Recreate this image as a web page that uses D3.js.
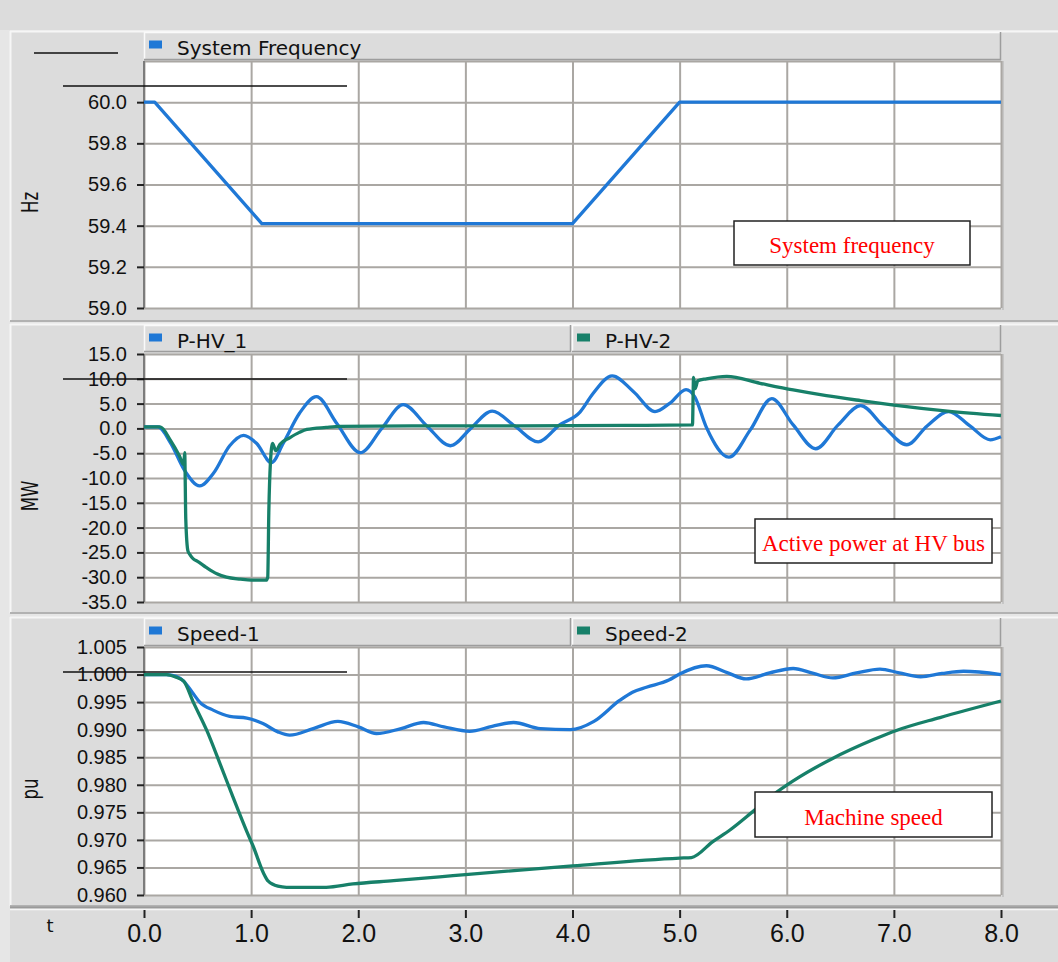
<!DOCTYPE html>
<html>
<head>
<meta charset="utf-8">
<title>System frequency, HV power and machine speed</title>
<script src="https://d3js.org/d3.v7.min.js"></script>
<style>
  body { margin: 0; background: #e6e6e6; }
  svg { display: block; font-family: "DejaVu Sans", Verdana, sans-serif; }
  .grid line { stroke: #aaa7a3; stroke-width: 2; }
  .grid path { display: none; }
  .yaxis path, .xaxis path { display: none; }
  .yaxis line, .xaxis line { stroke: #222; stroke-width: 2; }
  .yaxis text { font-size: 20px; fill: #111; }
  .xaxis text { font-size: 25px; fill: #111; }
  .note text { font-family: "Liberation Serif", "Times New Roman", serif; font-size: 23px; fill: #ff0000; }
</style>
</head>
<body>
<svg width="1058" height="962"></svg>
<script>
// time axis (s)
const xTicks = [0, 1, 2, 3, 4, 5, 6, 7, 8];

// system frequency (Hz)
const freqT = [0, 0.1, 1.1, 4.0, 5.0, 8.0];
const freqV = [60.0, 60.0, 59.41, 59.41, 60.0, 60.0];
const freqTicks = [59.0, 59.2, 59.4, 59.6, 59.8, 60.0];
const freqGrid = [59.0, 59.2, 59.4, 59.6, 59.8, 60.0, 60.2];

// active power at HV bus (MW)
const phv1T = [0, 0.13, 0.25, 0.38, 0.52, 0.65, 0.8, 0.93, 1.05, 1.19, 1.3, 1.45, 1.61, 1.8, 2.02,
  2.22, 2.42, 2.64, 2.86, 3.05, 3.25, 3.46, 3.68, 3.88, 4.07, 4.19, 4.37, 4.57, 4.77, 4.91, 5.06,
  5.14, 5.25, 5.46, 5.66, 5.86, 6.06, 6.27, 6.48, 6.69, 6.9, 7.12, 7.31, 7.51, 7.71, 7.9, 8.0];
const phv1V = [0.3, 0.3, -3.0, -8.5, -11.6, -9.0, -3.5, -1.4, -3.0, -6.9, -3.0, 3.0, 6.4, 1.0, -4.9,
  0.0, 4.8, 0.5, -3.5, 0.0, 3.5, 0.5, -2.7, 0.7, 3.3, 7.0, 10.6, 7.4, 3.4, 5.1, 7.8,
  6.4, 0.2, -5.8, -0.3, 6.0, 0.7, -4.1, 0.7, 4.6, 0.5, -3.3, 0.5, 3.4, 0.5, -2.3, -1.7];
const phv2T = [0, 0.15, 0.25, 0.33, 0.37, 0.38, 0.39, 0.41, 0.43, 0.46, 0.5, 0.58, 0.68, 0.77, 0.9,
  1.0, 1.14, 1.155, 1.165, 1.18, 1.2, 1.23, 1.27, 1.36, 1.45, 1.52, 1.7, 1.83, 2.5, 3.5, 4.5,
  5.12, 5.13, 5.145, 5.17, 5.25, 5.44, 5.75, 6.06, 6.37, 6.69, 7.0, 7.5, 8.0];
const phv2V = [0.3, 0.3, -2.5, -5.5, -7.3, -4.9, -18.3, -24.7, -25.5, -26.3, -26.8, -28.0, -29.3, -30.0, -30.4,
  -30.6, -30.6, -30.0, -17.0, -7.0, -3.0, -4.5, -3.2, -1.9, -0.8, -0.2, 0.2, 0.4, 0.5, 0.5, 0.6,
  0.7, 10.3, 8.0, 9.6, 10.0, 10.5, 9.1, 7.75, 6.6, 5.6, 4.7, 3.5, 2.6];
const powerTicks = [-35, -30, -25, -20, -15, -10, -5, 0, 5, 10, 15];

// machine speed (pu)
const spd1T = [0, 0.21, 0.3, 0.37, 0.45, 0.52, 0.65, 0.8, 0.96, 1.11, 1.25, 1.36, 1.58, 1.81, 2.0,
  2.17, 2.4, 2.61, 2.8, 3.04, 3.25, 3.45, 3.7, 3.98, 4.2, 4.44, 4.56, 4.69, 4.9, 5.0,
  5.25, 5.45, 5.62, 5.84, 6.06, 6.25, 6.43, 6.65, 6.87, 7.05, 7.25, 7.45, 7.65, 8.0];
const spd1V = [1.0, 1.0, 0.9997, 0.9988, 0.9968, 0.995, 0.9935, 0.9924, 0.9921, 0.9911, 0.9896, 0.989, 0.9902, 0.9915, 0.9905,
  0.9893, 0.9902, 0.9913, 0.9905, 0.9897, 0.9906, 0.9913, 0.9902, 0.99, 0.9915, 0.9953, 0.9968, 0.9977, 0.999, 1.0001,
  1.0016, 1.0003, 0.9992, 1.0003, 1.0011, 1.0002, 0.9994, 1.0003, 1.001, 1.0003, 0.9996, 1.0002, 1.0006, 1.0];
const spd2T = [0, 0.21, 0.3, 0.37, 0.46, 0.585, 0.71, 0.83, 0.96, 1.02, 1.115, 1.16, 1.25, 1.33, 1.7,
  1.95, 2.33, 2.76, 3.0, 4.0, 5.0, 5.11, 5.31, 5.47, 5.7, 5.91, 6.06, 6.41, 6.81, 7.03, 7.43, 8.0];
const spd2V = [1.0, 1.0, 0.9995, 0.9988, 0.995, 0.9899, 0.9838, 0.9778, 0.9715, 0.9688, 0.964, 0.9625, 0.9616, 0.9614, 0.9614,
  0.962, 0.9626, 0.9633, 0.9637, 0.9653, 0.9667, 0.9668, 0.9697, 0.9718, 0.9754, 0.9787, 0.9807, 0.9846, 0.9882, 0.9899, 0.9922, 0.9952];
const speedTicks = [0.960, 0.965, 0.970, 0.975, 0.980, 0.985, 0.990, 0.995, 1.000, 1.005];

const blue = "#1f78d6", green = "#178069";

const svg = d3.select("svg");
const x = d3.scaleLinear().domain([0, 8]).range([144, 1001]);

// top strip
svg.append("rect").attr("x", 0).attr("y", 0).attr("width", 1058).attr("height", 30).attr("fill", "#dcdcdc");

const panels = [
  { top: 31, bottom: 321, legend: [32, 60], plot: [61, 308], domain: [59.0, 60.2],
    ticks: freqTicks, grid: freqGrid, digits: 1, title: "Hz",
    series: [{ name: "System Frequency", t: freqT, v: freqV, color: blue, curve: d3.curveLinear }], single: true },
  { top: 324, bottom: 613, legend: [325, 352], plot: [354, 602], domain: [-35, 15],
    ticks: powerTicks, grid: powerTicks, digits: 1, title: "MW",
    series: [{ name: "P-HV_1", t: phv1T, v: phv1V, color: blue },
             { name: "P-HV-2", t: phv2T, v: phv2V, color: green }] },
  { top: 617, bottom: 906, legend: [618, 646], plot: [647, 895], domain: [0.960, 1.005],
    ticks: speedTicks, grid: speedTicks, digits: 3, title: "pu",
    series: [{ name: "Speed-1", t: spd1T, v: spd1V, color: blue },
             { name: "Speed-2", t: spd2T, v: spd2V, color: green }] }
];

panels.forEach(p => {
  const g = svg.append("g");
  const y = d3.scaleLinear().domain(p.domain).range([p.plot[1], p.plot[0]]);

  // frame
  g.append("rect").attr("x", 10).attr("y", p.top).attr("width", 1048).attr("height", p.bottom - p.top).attr("fill", "#dcdcdc");
  g.append("line").attr("x1", 10).attr("x2", 1058).attr("y1", p.top + 0.5).attr("y2", p.top + 0.5).attr("stroke", "#f6f6f6").attr("stroke-width", 2);
  g.append("line").attr("x1", 10.5).attr("x2", 10.5).attr("y1", p.top).attr("y2", p.bottom).attr("stroke", "#f6f6f6").attr("stroke-width", 2);
  g.append("line").attr("x1", 10).attr("x2", 1058).attr("y1", p.bottom).attr("y2", p.bottom).attr("stroke", "#b2b2b2").attr("stroke-width", 2);

  // plot area
  g.append("rect").attr("x", 144).attr("y", p.plot[0]).attr("width", 857).attr("height", p.plot[1] - p.plot[0]).attr("fill", "#fff");
  g.append("line").attr("x1", 1003).attr("x2", 1003).attr("y1", p.plot[0]).attr("y2", p.plot[1] + 2).attr("stroke", "#c6c6c6").attr("stroke-width", 2);
  g.append("g").attr("class", "grid").attr("transform", `translate(0,${p.plot[1]})`)
    .call(d3.axisBottom(x).tickValues(xTicks).tickSize(-(p.plot[1] - p.plot[0])).tickFormat(""));
  g.append("g").attr("class", "grid").attr("transform", "translate(144,0)")
    .call(d3.axisLeft(y).tickValues(p.grid).tickSize(-857).tickFormat(""));

  // legend bar
  const segs = p.single ? [[144, 1001]] : [[144, 571], [572, 1001]];
  p.series.forEach((s, i) => {
    const [a, b] = segs[i];
    const lg = g.append("g");
    lg.append("rect").attr("x", a).attr("y", p.legend[0]).attr("width", b - a).attr("height", p.legend[1] - p.legend[0]).attr("fill", "#dcdcdc");
    lg.append("path").attr("d", `M${a + 0.5},${p.legend[1]}V${p.legend[0] + 0.5}H${b}`).attr("fill", "none").attr("stroke", "#fafafa").attr("stroke-width", 1.5);
    lg.append("path").attr("d", `M${a},${p.legend[1] - 0.5}H${b - 0.5}V${p.legend[0]}`).attr("fill", "none").attr("stroke", "#9d9d9d").attr("stroke-width", 1.5);
    lg.append("rect").attr("x", a + 5).attr("y", p.legend[0] + 8.5).attr("width", 13).attr("height", 8).attr("fill", s.color);
    lg.append("text").attr("x", a + 33).attr("y", p.legend[0] + 22.5).style("font-size", "20px").attr("fill", "#111").text(s.name);
  });

  // y axis
  g.append("line").attr("x1", 144).attr("x2", 144).attr("y1", p.plot[0]).attr("y2", p.plot[1]).attr("stroke", "#7c7c7c").attr("stroke-width", 2);
  g.append("g").attr("class", "yaxis").attr("transform", "translate(144,0)")
    .call(d3.axisLeft(y).tickValues(p.ticks).tickSize(7).tickPadding(10).tickFormat(d => d.toFixed(p.digits)));
  g.append("text").attr("transform", `translate(38,${(p.plot[0] + p.plot[1]) / 2 + 18}) rotate(-90) scale(0.72,1)`)
    .attr("text-anchor", "middle").style("font-size", "23px").attr("fill", "#111").text(p.title);

  // series
  p.series.forEach(s => {
    const line = d3.line().x(d => x(d[0])).y(d => y(d[1])).curve(s.curve || d3.curveMonotoneX);
    g.append("path").datum(d3.zip(s.t, s.v)).attr("fill", "none").attr("stroke", s.color)
      .attr("stroke-width", 3.3).attr("stroke-linejoin", "round").attr("d", line);
  });
});

// annotation boxes
const notes = [
  { text: "System frequency", x0: 734, y0: 221, x1: 970, y1: 265 },
  { text: "Active power at HV bus", x0: 755, y0: 519, x1: 992, y1: 563 },
  { text: "Machine speed", x0: 755, y0: 792, x1: 992, y1: 837 }
];
const ng = svg.append("g").attr("class", "note");
notes.forEach(n => {
  ng.append("rect").attr("x", n.x0).attr("y", n.y0).attr("width", n.x1 - n.x0).attr("height", n.y1 - n.y0)
    .attr("fill", "#fff").attr("stroke", "#222").attr("stroke-width", 1.5);
  ng.append("text").attr("x", (n.x0 + n.x1) / 2).attr("y", n.y1 - 12).attr("text-anchor", "middle").text(n.text);
});

// stray black rules in the original screenshot
const rules = [[34, 118, 53], [63, 347, 86], [63, 347, 379], [63, 347, 672]];
rules.forEach(r => {
  svg.append("line").attr("x1", r[0]).attr("x2", r[1]).attr("y1", r[2]).attr("y2", r[2]).attr("stroke", "#111").attr("stroke-width", 1.5);
});

// shared time axis
svg.append("rect").attr("x", 10).attr("y", 907).attr("width", 1048).attr("height", 55).attr("fill", "#dcdcdc");
svg.append("line").attr("x1", 10).attr("x2", 1058).attr("y1", 907.5).attr("y2", 907.5).attr("stroke", "#9a9a9a").attr("stroke-width", 2);
svg.append("line").attr("x1", 10).attr("x2", 1058).attr("y1", 909.5).attr("y2", 909.5).attr("stroke", "#f6f6f6").attr("stroke-width", 1.5);
svg.append("g").attr("class", "xaxis").attr("transform", "translate(0,910)")
  .call(d3.axisBottom(x).tickValues(xTicks).tickSize(8).tickPadding(6).tickFormat(d => d.toFixed(1)));
svg.append("text").attr("x", 50).attr("y", 932).attr("text-anchor", "middle").style("font-size", "18px").attr("fill", "#111").text("t");
</script>
</body>
</html>
